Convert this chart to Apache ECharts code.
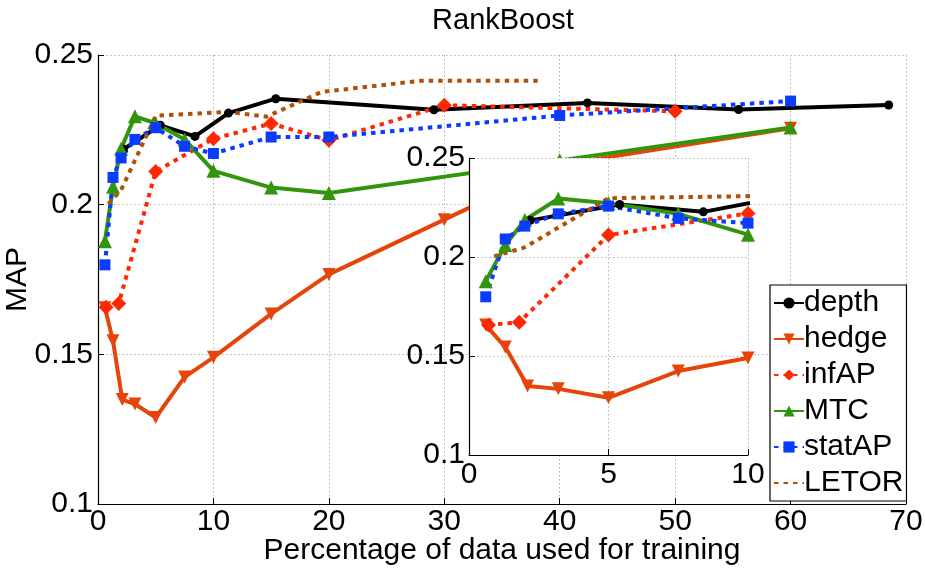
<!DOCTYPE html>
<html>
<head>
<meta charset="utf-8">
<script src="https://cdn.jsdelivr.net/npm/echarts@6/dist/echarts.min.js"></script>
<style>html,body{margin:0;padding:0;background:#fff}#c{width:925px;height:568px}</style>
</head>
<body>
<div id="c"></div>
<script>
const title = "RankBoost";
const xName = "Percentage of data used for training";
const yName = "MAP";
const seriesNames = ["depth", "hedge", "infAP", "MTC", "statAP", "LETOR"];

const depthX = [2.2, 5.4, 8.4, 11.3, 15.4, 29.1, 42.4, 55.5, 68.5];
const depthY = [0.2185, 0.2265, 0.2228, 0.2306, 0.2354, 0.2317, 0.234, 0.2318, 0.2333];

const hedgeX = [0.6, 1.3, 2.1, 3.2, 5, 7.5, 10, 15, 20, 30, 40, 60];
const hedgeY = [0.1656, 0.1545, 0.1349, 0.1334, 0.1289, 0.1424, 0.149, 0.1635, 0.1767, 0.195, 0.2133, 0.2255];

const infAPX = [0.7, 1.8, 5, 10, 15, 20, 30, 50];
const infAPY = [0.1657, 0.167, 0.2111, 0.222, 0.2271, 0.2215, 0.2332, 0.2312];

const mtcX = [0.6, 1.3, 2, 3.2, 5, 7.5, 10, 15, 20, 40, 60];
const mtcY = [0.1878, 0.206, 0.2187, 0.2295, 0.2272, 0.2218, 0.2113, 0.2057, 0.2039, 0.2148, 0.2258];

const statAPX = [0.6, 1.3, 2, 3.2, 5, 7.5, 10, 15, 20, 40, 60];
const statAPY = [0.1799, 0.2091, 0.2156, 0.2218, 0.2257, 0.2195, 0.2171, 0.2226, 0.2226, 0.2298, 0.2346];

const letorX = [0.9, 2, 5, 11.3, 14.6, 19.4, 28, 38.3];
const letorY = [0.2003, 0.2049, 0.2297, 0.231, 0.2294, 0.2377, 0.2414, 0.2414];

const mainXTicks = {min: 0, max: 70, interval: 10};
const mainYTicks = {min: 0.1, max: 0.25, interval: 0.05};
const insetXTicks = {min: 0, max: 10, interval: 5};
const insetYTicks = {min: 0.1, max: 0.25, interval: 0.05};

const pairs = (xs, ys) => xs.map((x, i) => [x, ys[i]]);
const data = [pairs(depthX, depthY), pairs(hedgeX, hedgeY), pairs(infAPX, infAPY),
              pairs(mtcX, mtcY), pairs(statAPX, statAPY), pairs(letorX, letorY)];

const DOT = [4.5, 5];
const styles = [
  {color: '#000000', type: 'solid', symbol: 'circle', size: 9, rot: 0},
  {color: '#E6450A', type: 'solid', symbol: 'triangle', size: 13, rot: 180},
  {color: '#FF2800', type: DOT, symbol: 'diamond', size: 15, rot: 0},
  {color: '#33950E', type: 'solid', symbol: 'triangle', size: 14, rot: 0},
  {color: '#0A3CFF', type: DOT, symbol: 'rect', size: 11, rot: 0},
  {color: '#B0500A', type: DOT, symbol: 'none', size: 0, rot: 0}
];

const FONT = "'Liberation Sans', Arial, Helvetica, sans-serif";
const FS = 30;
const gridLine = {show: true, lineStyle: {color: '#b0b0b0', type: [1.5, 2.5], width: 1}};
const axisLine = {show: true, onZero: false, lineStyle: {color: '#000', width: 1.2}};
const tick = {show: true, inside: true, length: 6, lineStyle: {color: '#000'}};

function makeSeries(gi, z) {
  return seriesNames.map((name, i) => {
    const s = styles[i];
    return {
      name: name, type: 'line', xAxisIndex: gi, yAxisIndex: gi, z: z,
      data: data[i],
      symbol: s.symbol, symbolSize: s.size, symbolRotate: s.rot, showSymbol: s.symbol !== 'none',
      lineStyle: {color: s.color, width: 4, type: s.type, cap: 'butt'},
      itemStyle: {color: s.color},
      clip: true, animation: false, emphasis: {disabled: true}
    };
  });
}

const legendData = seriesNames.map((n, i) =>
  styles[i].symbol === 'none' ? {name: n, itemStyle: {opacity: 0}} : {name: n});

const chart = echarts.init(document.getElementById('c'), null, {renderer: 'canvas'});
chart.setOption({
  animation: false,
  backgroundColor: '#fff',
  textStyle: {fontFamily: FONT},
  title: {text: title, left: 498, top: 1, textAlign: 'center',
          textStyle: {fontSize: FS - 1, fontWeight: 'normal', color: '#000', fontFamily: FONT}},
  grid: [
    {left: 98, right: 19, top: 55, bottom: 64, containLabel: false, outerBoundsMode: 'none'},
    {left: 469, right: 177, top: 158, bottom: 113, containLabel: false, outerBoundsMode: 'none', show: true,
     backgroundColor: '#fff', borderWidth: 0, z: 5}
  ],
  xAxis: [
    {type: 'value', gridIndex: 0, min: mainXTicks.min, max: mainXTicks.max, interval: mainXTicks.interval,
     name: xName, nameLocation: 'middle', nameGap: 32, nameMoveOverlap: false,
     nameTextStyle: {fontSize: FS, color: '#000', fontFamily: FONT},
     axisLine: axisLine, axisTick: tick, splitLine: gridLine,
     axisLabel: {fontSize: FS, color: '#000', margin: 3, fontFamily: FONT}},
    {type: 'value', gridIndex: 1, min: insetXTicks.min, max: insetXTicks.max, interval: insetXTicks.interval, z: 6,
     axisLine: axisLine, axisTick: tick, splitLine: gridLine,
     axisLabel: {fontSize: FS, color: '#000', margin: 5, fontFamily: FONT}}
  ],
  yAxis: [
    {type: 'value', gridIndex: 0, min: mainYTicks.min, max: mainYTicks.max, interval: mainYTicks.interval,
     name: yName, nameLocation: 'middle', nameGap: 65, nameMoveOverlap: false,
     nameTextStyle: {fontSize: FS, color: '#000', fontFamily: FONT},
     axisLine: axisLine, axisTick: tick, splitLine: gridLine,
     axisLabel: {fontSize: FS, color: '#000', margin: 5, fontFamily: FONT}},
    {type: 'value', gridIndex: 1, min: insetYTicks.min, max: insetYTicks.max, interval: insetYTicks.interval, z: 6,
     axisLine: axisLine, axisTick: tick, splitLine: gridLine,
     axisLabel: {fontSize: FS, color: '#000', margin: 4, fontFamily: FONT}}
  ],
  legend: {
    data: legendData, orient: 'vertical', left: 770, top: 285, z: 10,
    backgroundColor: '#fff', borderColor: '#000', borderWidth: 1.2, borderRadius: 0,
    padding: [3, 3, 3, 3], itemGap: 6, itemWidth: 30, itemHeight: 14,
    textStyle: {fontSize: FS, color: '#000', fontFamily: FONT, padding: [0, 0, 0, -5]},
    selectedMode: false
  },
  series: makeSeries(0, 2).concat(makeSeries(1, 7))
});
</script>
</body>
</html>
